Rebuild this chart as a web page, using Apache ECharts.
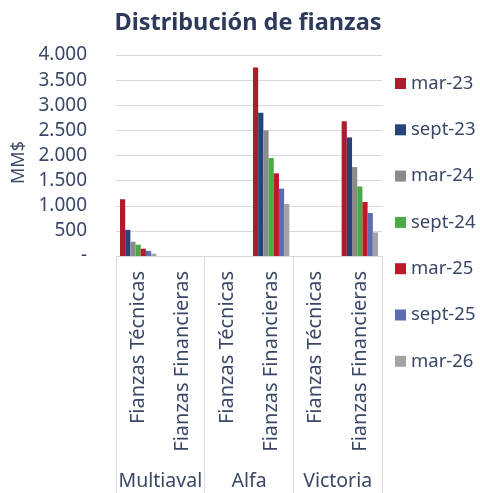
<!DOCTYPE html>
<html>
<head>
<meta charset="utf-8">
<script src="https://cdn.jsdelivr.net/npm/echarts@6/dist/echarts.min.js"></script>
<style>
  html, body { margin: 0; padding: 0; background: #fff; }
  #chart { width: 480px; height: 493px; }
</style>
</head>
<body>
<div id="chart"></div>
<script>
// categorias (tipo de fianza) y grupos (afianzadora)
const tipos = ['Fianzas Técnicas', 'Fianzas Financieras', 'Fianzas Técnicas', 'Fianzas Financieras', 'Fianzas Técnicas', 'Fianzas Financieras'];
const grupos = ['Multiaval', 'Alfa', 'Victoria'];
const periodos = ['mar-23', 'sept-23', 'mar-24', 'sept-24', 'mar-25', 'sept-25', 'mar-26'];

// MM$ por periodo, en el orden de "tipos"
const mar23 = [1130, 0, 0, 3750, 0, 2680];
const sept23 = [520, 0, 0, 2850, 0, 2360];
const mar24 = [285, 0, 0, 2500, 0, 1770];
const sept24 = [225, 0, 0, 1950, 0, 1385];
const mar25 = [145, 0, 0, 1645, 0, 1075];
const sept25 = [100, 0, 0, 1340, 0, 855];
const mar26 = [45, 0, 0, 1035, 0, 470];

const valores = [mar23, sept23, mar24, sept24, mar25, sept25, mar26];
const colores = ['#ad1c2b', '#264478', '#8a8a8a', '#4aab46', '#c0172a', '#5b6cb0', '#a3a3a3'];

const txt = '#3a4766';
const fuente = 'Noto Sans';

const chart = echarts.init(document.getElementById('chart'));

chart.setOption({
  animation: false,
  textStyle: { fontFamily: fuente },
  title: {
    text: 'Distribución de fianzas',
    left: 243,
    textAlign: 'center',
    top: 6,
    textStyle: { fontSize: 23.5, fontWeight: 'bold', color: '#2e3a5c', fontFamily: fuente }
  },
  legend: {
    orient: 'vertical',
    left: 390,
    top: 69,
    itemWidth: 11,
    itemHeight: 11,
    itemGap: 27.3,
    icon: 'rect',
    textStyle: { fontSize: 18.5, color: txt, fontFamily: fuente },
    data: periodos
  },
  grid: { left: 116, right: 98, top: 55, bottom: 237 },
  yAxis: {
    type: 'value',
    min: 0,
    max: 4000,
    interval: 500,
    name: 'MM$',
    nameLocation: 'middle',
    nameRotate: 90,
    nameGap: 88,
    nameTextStyle: { fontSize: 18, color: txt, padding: [0, 14, 0, 0] },
    axisLine: { show: false },
    axisTick: { show: false },
    splitLine: { lineStyle: { color: '#d9d9d9', width: 1 } },
    axisLabel: {
      margin: 29,
      fontSize: 19,
      color: txt,
      formatter: function (v) {
        if (v === 0) return '-';
        return String(v).replace(/\B(?=(\d{3})+(?!\d))/g, '.');
      }
    }
  },
  xAxis: [
    {
      type: 'category',
      data: tipos,
      position: 'bottom',
      axisLine: { lineStyle: { color: '#d9d9d9' } },
      axisTick: { show: false },
      axisLabel: { interval: 0, rotate: 90, fontSize: 20, color: txt, margin: 15 }
    },
    {
      type: 'category',
      data: grupos,
      position: 'bottom',
      axisLine: { show: false },
      axisTick: { show: true, length: 237, lineStyle: { color: '#d9d9d9' } },
      axisLabel: { interval: 0, fontSize: 19.5, color: txt, margin: 215 }
    }
  ],
  series: periodos.map(function (p, i) {
    return {
      name: p,
      type: 'bar',
      xAxisIndex: 0,
      data: valores[i],
      barGap: '0%',
      barCategoryGap: '18%',
      itemStyle: { color: colores[i] }
    };
  })
});
</script>
</body>
</html>
